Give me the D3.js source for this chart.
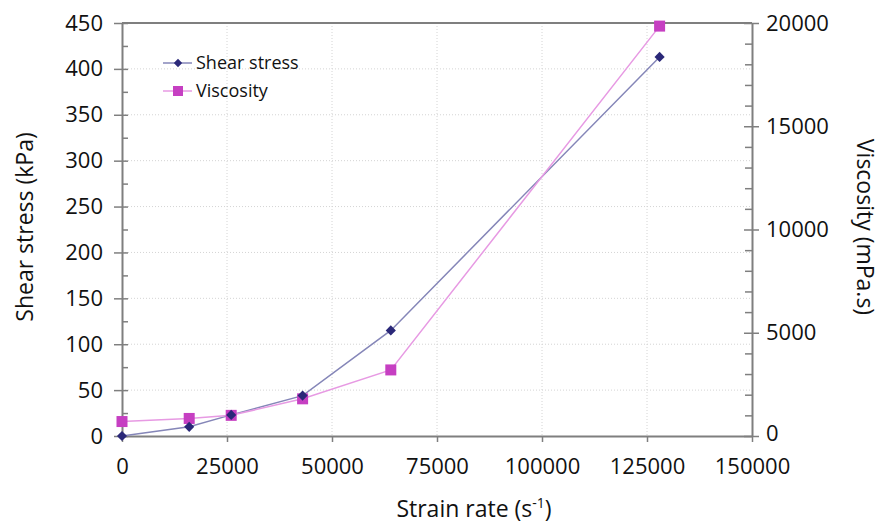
<!DOCTYPE html>
<html>
<head>
<meta charset="utf-8">
<script src="https://cdn.jsdelivr.net/npm/d3@7"></script>
<style>
  body { margin: 0; background: #fff; }
  text { font-family: "Open Sans", sans-serif; fill: #111; }
</style>
</head>
<body>
<script>
// datos
const strainRate = [0, 16000, 26000, 43000, 64000, 128000];
const shearStress = [0, 10, 23, 44, 115, 413];
const viscosity = [700, 850, 1000, 1800, 3200, 19850];
const xTicks = [0, 25000, 50000, 75000, 100000, 125000, 150000];
const yLeftTicks = [0, 50, 100, 150, 200, 250, 300, 350, 400, 450];
const yRightTicks = [0, 5000, 10000, 15000, 20000];

let width = 881, height = 524;
let margin = { top: 23, bottom: 88, left: 122, right: 129 };

const svg = d3.select("body").append("svg")
  .attr("width", width).attr("height", height);

let x = d3.scaleLinear().domain([0, 150000]).range([margin.left, width - margin.right]);
let yL = d3.scaleLinear().domain([0, 450]).range([height - margin.bottom, margin.top]);
let yR = d3.scaleLinear().domain([0, 20000]).range([height - margin.bottom, margin.top]);

const x0 = x.range()[0], x1 = x.range()[1];
const yb = yL.range()[0], yt = yL.range()[1];
const axisColor = "#7f7f7f";

/* rejilla punteada */
svg.append("g").selectAll("line.h")
  .data(yLeftTicks.slice(1, -1))
  .join("line")
  .attr("x1", x0).attr("x2", x1)
  .attr("y1", d => yL(d)).attr("y2", d => yL(d))
  .attr("stroke", "#d4d4d4").attr("stroke-dasharray", "1,2");
svg.append("g").selectAll("line.v")
  .data(xTicks.slice(1, -1))
  .join("line")
  .attr("x1", d => x(d)).attr("x2", d => x(d))
  .attr("y1", yt).attr("y2", yb)
  .attr("stroke", "#d4d4d4").attr("stroke-dasharray", "1,2");

/* borde superior */
svg.append("line").attr("x1", x0).attr("x2", x1).attr("y1", yt).attr("y2", yt)
  .attr("stroke", axisColor).attr("stroke-width", 2);

function styleAxis(g) {
  g.select(".domain").attr("stroke", axisColor).attr("stroke-width", 2);
  g.selectAll(".tick line").attr("stroke", axisColor).attr("stroke-width", 1.5);
  g.selectAll(".tick text").style("font-size", "22px").attr("fill", "#111");
}

/* Eje Y izquierdo: menores cada 25 */
svg.append("g").attr("transform", "translate(" + x0 + ",0)")
  .call(d3.axisRight(yL).tickValues(d3.range(25, 450, 50)).tickSize(6).tickFormat("").tickSizeOuter(0))
  .call(g => { g.select(".domain").remove(); g.selectAll(".tick line").attr("stroke", axisColor).attr("stroke-width", 1.5); });
let gL = svg.append("g").attr("transform", "translate(" + x0 + ",0)")
  .call(d3.axisLeft(yL).tickValues(yLeftTicks).tickSize(8).tickPadding(11).tickSizeOuter(0))
  .call(styleAxis);
gL.selectAll(".tick line").attr("x2", 6).attr("x1", -8);

/* Eje Y derecho: menores cada 1000 */
svg.append("g").attr("transform", "translate(" + x1 + ",0)")
  .call(d3.axisLeft(yR).tickValues(d3.range(1000, 20000, 1000).filter(v => v % 5000 !== 0)).tickSize(7).tickFormat("").tickSizeOuter(0))
  .call(g => { g.select(".domain").remove(); g.selectAll(".tick line").attr("stroke", axisColor).attr("stroke-width", 1.5); });
let gR = svg.append("g").attr("transform", "translate(" + x1 + ",0)")
  .call(d3.axisRight(yR).tickValues(yRightTicks).tickFormat(d3.format("d")).tickSize(8).tickPadding(6).tickSizeOuter(0))
  .call(styleAxis);
gR.selectAll(".tick line").attr("x1", -8).attr("x2", 7);
gR.selectAll(".tick text").filter(d => d === 0).attr("dy", "0.2em");

/* Eje X */
svg.append("g").attr("transform", "translate(0," + yb + ")")
  .call(d3.axisBottom(x).tickValues(xTicks).tickFormat(d3.format("d")).tickSize(6).tickPadding(16).tickSizeOuter(0))
  .call(styleAxis);

/* series */
const ptsS = strainRate.map((d, i) => [x(d), yL(shearStress[i])]);
const ptsV = strainRate.map((d, i) => [x(d), yR(viscosity[i])]);
const line = d3.line();

svg.append("path").attr("d", line(ptsS)).attr("fill", "none")
  .attr("stroke", "#8586b8").attr("stroke-width", 1.5);
svg.append("path").attr("d", line(ptsV)).attr("fill", "none")
  .attr("stroke", "#e79ae3").attr("stroke-width", 1.5);

const diamond = d3.symbol().type(d3.symbolDiamond2).size(66);
svg.selectAll("rect.sq").data(ptsV).join("rect")
  .attr("x", d => d[0] - 5.5).attr("y", d => d[1] - 5.5)
  .attr("width", 11).attr("height", 11).attr("fill", "#c63fc2");
svg.selectAll("path.dm").data(ptsS).join("path")
  .attr("d", diamond).attr("transform", d => "translate(" + d[0] + "," + d[1] + ")")
  .attr("fill", "#2a2878");

/* leyenda */
const leg = svg.append("g");
leg.append("line").attr("x1", 163).attr("x2", 192).attr("y1", 63).attr("y2", 63)
  .attr("stroke", "#8586b8").attr("stroke-width", 1.5);
leg.append("path").attr("d", d3.symbol().type(d3.symbolDiamond2).size(45))
  .attr("transform", "translate(178,63)").attr("fill", "#2a2878");
leg.append("text").attr("x", 196).attr("y", 69).style("font-size", "18px").text("Shear stress");
leg.append("line").attr("x1", 163).attr("x2", 192).attr("y1", 91).attr("y2", 91)
  .attr("stroke", "#e79ae3").attr("stroke-width", 1.5);
leg.append("rect").attr("x", 173).attr("y", 86).attr("width", 10).attr("height", 10).attr("fill", "#c63fc2");
leg.append("text").attr("x", 196).attr("y", 97).style("font-size", "18px").text("Viscosity");

/* titulos */
svg.append("text").attr("transform", "translate(33,227) rotate(-90)")
  .style("text-anchor", "middle").style("font-size", "23px").text("Shear stress (kPa)");
svg.append("text").attr("transform", "translate(857,227) rotate(90)")
  .style("text-anchor", "middle").style("font-size", "23px").text("Viscosity (mPa.s)");
const tx = svg.append("text").attr("x", 474).attr("y", 517)
  .style("text-anchor", "middle").style("font-size", "23px");
tx.append("tspan").text("Strain rate (s");
tx.append("tspan").attr("dy", -9).style("font-size", "14px").text("-1");
tx.append("tspan").attr("dy", 9).text(")");
</script>
</body>
</html>
